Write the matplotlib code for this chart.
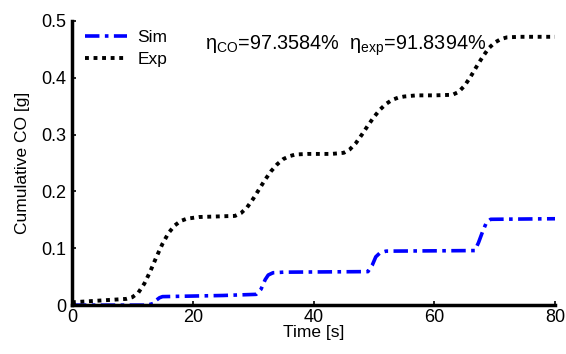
import numpy as np
import matplotlib.pyplot as plt

plt.rcParams['font.family'] = ['Liberation Sans', 'DejaVu Sans']
plt.rcParams['mathtext.fontset'] = 'custom'
plt.rcParams['mathtext.rm'] = 'Liberation Sans'
plt.rcParams['mathtext.it'] = 'Liberation Sans'
plt.rcParams['font.size'] = 13

## values
t_exp = [0, 3, 6, 9, 10, 11, 12, 13, 14, 15, 16, 17, 18, 19, 21, 24, 27, 28, 29, 30,
         31, 32, 33, 34, 35, 36, 37, 39, 43, 45, 46, 47, 48, 49, 50, 51, 52, 53, 54, 55,
         57, 60, 63, 64, 65, 66, 67, 68, 69, 70, 71, 72, 74, 80]
co_exp = [0.005, 0.007, 0.009, 0.011, 0.014, 0.022, 0.038, 0.060, 0.085, 0.108, 0.127,
          0.140, 0.148, 0.152, 0.155, 0.156, 0.157, 0.162, 0.172, 0.187, 0.204, 0.221,
          0.236, 0.248, 0.257, 0.262, 0.265, 0.266, 0.266, 0.268, 0.274, 0.285, 0.300,
          0.316, 0.331, 0.344, 0.354, 0.361, 0.365, 0.367, 0.369, 0.369, 0.370, 0.375,
          0.386, 0.402, 0.420, 0.437, 0.452, 0.462, 0.468, 0.471, 0.472, 0.472]

t_sim = [0, 12.5, 13.5, 14, 14.5, 15, 20, 25, 30.5, 31.3, 32, 32.5, 33.3, 35, 49,
         49.7, 50.3, 51, 52, 66.7, 67.3, 68, 68.6, 69.3, 80]
co_sim = [0, 0, 0.003, 0.009, 0.013, 0.015, 0.016, 0.017, 0.019, 0.028, 0.045, 0.053,
          0.057, 0.058, 0.059, 0.070, 0.085, 0.092, 0.095, 0.096, 0.110, 0.130, 0.145,
          0.151, 0.152]

eta_co = 97.3584
eta_exp = 91.8394

fig = plt.figure(figsize=(5.66, 3.54), dpi=100)
ax = fig.add_axes([0.127, 0.138, 0.854, 0.803])

ax.plot(t_sim, co_sim, color='blue', linestyle=(0, (4, 1.5, 1, 1.5)), linewidth=2.6, label='Sim')
ax.plot(t_exp, co_exp, color='black', linestyle=(0, (1, 1.2)), linewidth=2.8, label='Exp')

ax.set_xlim(0, 80)
ax.set_ylim(0, 0.5)
ax.set_xticks([0, 20, 40, 60, 80])
ax.set_yticks([0, 0.1, 0.2, 0.3, 0.4, 0.5])
ax.set_yticklabels(['0', '0.1', '0.2', '0.3', '0.4', '0.5'])
ax.set_xlabel('Time [s]', fontsize=12.5, labelpad=-1)
ax.set_ylabel('Cumulative CO [g]', fontsize=12.5, labelpad=8)

ax.spines['top'].set_visible(False)
ax.spines['right'].set_visible(False)
ax.spines['left'].set_linewidth(2.5)
ax.spines['bottom'].set_linewidth(2.5)
ax.tick_params(direction='in', length=3, width=1.2)
ax.tick_params(axis='x', pad=3)
ax.tick_params(axis='y', pad=4)

ax.text(22, 0.449, r'$\eta_{CO}$=%.4f%%  $\eta_{exp}$=%.4f%%' % (eta_co, eta_exp), fontsize=14.3)

ax.legend(loc='upper left', frameon=False, handlelength=2.4, handletextpad=0.6,
          borderaxespad=0.1, bbox_to_anchor=(0.01, 1.0), labelspacing=0.4, fontsize=12.5)

fig.savefig('out.png', dpi=100)
